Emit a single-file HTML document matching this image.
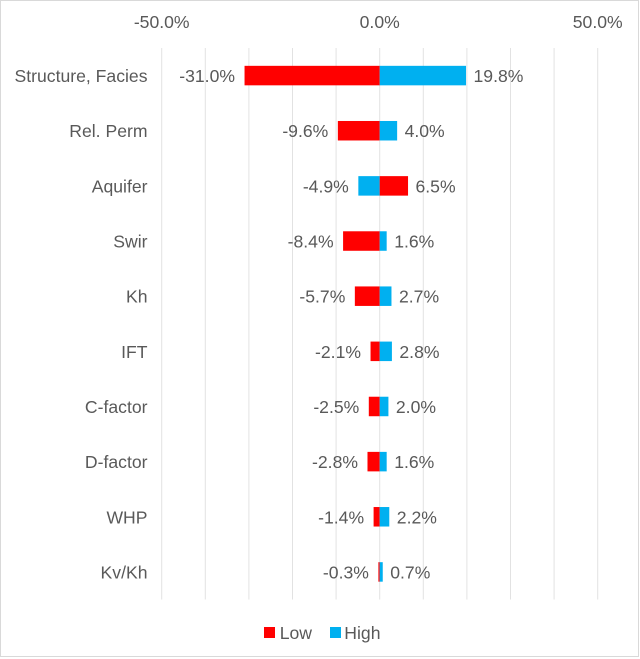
<!DOCTYPE html>
<html>
<head>
<meta charset="utf-8">
<style>
  html, body { margin: 0; padding: 0; background: #fff; }
  svg { display: block; }
  text { font-family: "Liberation Sans", Arial, sans-serif; font-size: 17.6px; fill: #595959; }
</style>
</head>
<body>
<svg width="640" height="659" viewBox="0 0 640 659" xmlns="http://www.w3.org/2000/svg">
  <rect x="0" y="0" width="640" height="659" fill="#ffffff"/>
  <rect x="0.5" y="0.5" width="638" height="656" fill="none" stroke="#d9d9d9" stroke-width="1"/>

  <!-- gridlines -->
  <g stroke="#e2e2e2" stroke-width="1">
    <line x1="161.7" y1="48" x2="161.7" y2="599.5"/>
    <line x1="205.3" y1="48" x2="205.3" y2="599.5"/>
    <line x1="248.9" y1="48" x2="248.9" y2="599.5"/>
    <line x1="292.5" y1="48" x2="292.5" y2="599.5"/>
    <line x1="336.1" y1="48" x2="336.1" y2="599.5"/>
    <line x1="379.7" y1="48" x2="379.7" y2="599.5"/>
    <line x1="423.3" y1="48" x2="423.3" y2="599.5"/>
    <line x1="466.9" y1="48" x2="466.9" y2="599.5"/>
    <line x1="510.5" y1="48" x2="510.5" y2="599.5"/>
    <line x1="554.1" y1="48" x2="554.1" y2="599.5"/>
    <line x1="597.7" y1="48" x2="597.7" y2="599.5"/>
  </g>

  <!-- axis tick labels -->
  <text x="161.7" y="28" text-anchor="middle">-50.0%</text>
  <text x="379.7" y="28" text-anchor="middle">0.0%</text>
  <text x="597.7" y="28" text-anchor="middle">50.0%</text>

  <!-- category labels -->
  <g text-anchor="end">
    <text x="147.5" y="82.1">Structure, Facies</text>
    <text x="147.5" y="137.2">Rel. Perm</text>
    <text x="147.5" y="192.4">Aquifer</text>
    <text x="147.5" y="247.5">Swir</text>
    <text x="147.5" y="302.7">Kh</text>
    <text x="147.5" y="357.8">IFT</text>
    <text x="147.5" y="413.0">C-factor</text>
    <text x="147.5" y="468.1">D-factor</text>
    <text x="147.5" y="523.3">WHP</text>
    <text x="147.5" y="578.4">Kv/Kh</text>
  </g>

  <!-- bars -->
  <g>
    <rect x="244.54" y="65.83" width="135.16" height="19.5" fill="#ff0000"/>
    <rect x="379.7" y="65.83" width="86.33" height="19.5" fill="#00b0f0"/>
    <rect x="337.84" y="120.98" width="41.86" height="19.5" fill="#ff0000"/>
    <rect x="379.7" y="120.98" width="17.44" height="19.5" fill="#00b0f0"/>
    <rect x="358.34" y="176.13" width="21.36" height="19.5" fill="#00b0f0"/>
    <rect x="379.7" y="176.13" width="28.34" height="19.5" fill="#ff0000"/>
    <rect x="343.08" y="231.28" width="36.62" height="19.5" fill="#ff0000"/>
    <rect x="379.7" y="231.28" width="6.98" height="19.5" fill="#00b0f0"/>
    <rect x="354.85" y="286.43" width="24.85" height="19.5" fill="#ff0000"/>
    <rect x="379.7" y="286.43" width="11.77" height="19.5" fill="#00b0f0"/>
    <rect x="370.54" y="341.58" width="9.16" height="19.5" fill="#ff0000"/>
    <rect x="379.7" y="341.58" width="12.21" height="19.5" fill="#00b0f0"/>
    <rect x="368.8" y="396.73" width="10.9" height="19.5" fill="#ff0000"/>
    <rect x="379.7" y="396.73" width="8.72" height="19.5" fill="#00b0f0"/>
    <rect x="367.49" y="451.88" width="12.21" height="19.5" fill="#ff0000"/>
    <rect x="379.7" y="451.88" width="6.98" height="19.5" fill="#00b0f0"/>
    <rect x="373.6" y="507.03" width="6.1" height="19.5" fill="#ff0000"/>
    <rect x="379.7" y="507.03" width="9.59" height="19.5" fill="#00b0f0"/>
    <rect x="378.39" y="562.18" width="1.31" height="19.5" fill="#ff0000"/>
    <rect x="379.7" y="562.18" width="3.05" height="19.5" fill="#00b0f0"/>
  </g>

  <!-- data labels -->
  <g text-anchor="end">
    <text x="235.0" y="82.1">-31.0%</text>
    <text x="328.3" y="137.2">-9.6%</text>
    <text x="348.8" y="192.4">-4.9%</text>
    <text x="333.6" y="247.5">-8.4%</text>
    <text x="345.35" y="302.7">-5.7%</text>
    <text x="361.0" y="357.8">-2.1%</text>
    <text x="359.3" y="413.0">-2.5%</text>
    <text x="358.0" y="468.1">-2.8%</text>
    <text x="364.1" y="523.3">-1.4%</text>
    <text x="368.9" y="578.4">-0.3%</text>
  </g>
  <g text-anchor="start">
    <text x="473.5" y="82.1">19.8%</text>
    <text x="404.6" y="137.2">4.0%</text>
    <text x="415.5" y="192.4">6.5%</text>
    <text x="394.2" y="247.5">1.6%</text>
    <text x="399.0" y="302.7">2.7%</text>
    <text x="399.4" y="357.8">2.8%</text>
    <text x="395.9" y="413.0">2.0%</text>
    <text x="394.2" y="468.1">1.6%</text>
    <text x="396.8" y="523.3">2.2%</text>
    <text x="390.25" y="578.4">0.7%</text>
  </g>

  <!-- legend -->
  <rect x="264" y="627" width="11" height="11" fill="#ff0000"/>
  <text x="279.7" y="639.1">Low</text>
  <rect x="330" y="627" width="11" height="11" fill="#00b0f0"/>
  <text x="344.3" y="639.1">High</text>
</svg>
</body>
</html>
